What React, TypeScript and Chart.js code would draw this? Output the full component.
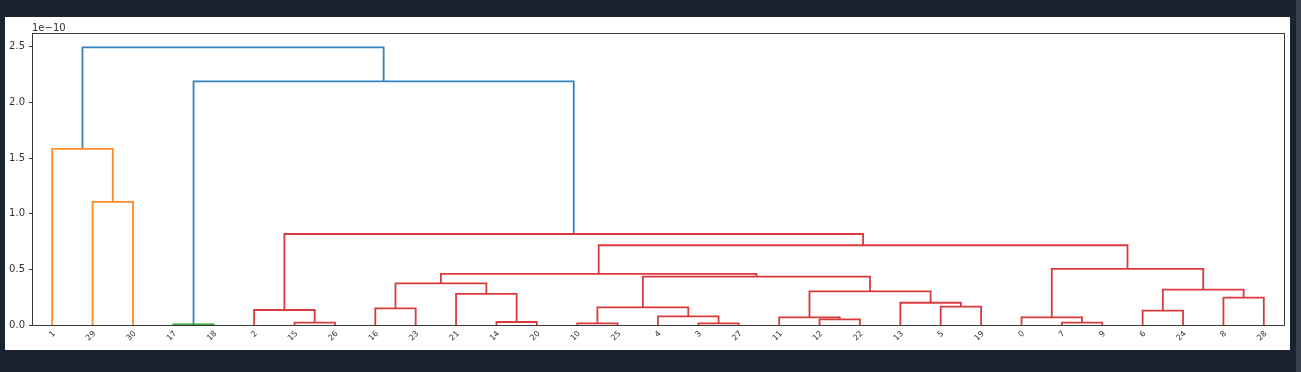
import React, { useEffect, useRef } from "react";
import { Chart, registerables } from "chart.js";

Chart.register(...registerables);

// Leaf order along the x axis (labels of the original observations)
const LEAF_LABELS = [1, 29, 30, 17, 18, 2, 15, 26, 16, 23, 21, 14, 20, 10, 25, 4, 3, 27, 11, 12, 22, 13, 5, 19, 0, 7, 9, 6, 24, 8, 28];

// Linkage (scipy style): ids 0..30 are leaves, merge i creates cluster id 31 + i
const MERGE_LEFT = [17, 10, 3, 15, 7, 14, 12, 11, 0, 4, 6, 2, 16, 32, 5, 13, 8, 21, 38, 41, 43, 44, 51, 39, 53, 42, 29, 1, 31, 58];
const MERGE_RIGHT = [18, 25, 27, 26, 9, 20, 22, 37, 35, 33, 24, 34, 23, 40, 19, 45, 28, 36, 46, 47, 48, 49, 52, 50, 54, 55, 30, 57, 56, 59];
// merge distances, in units of 1e-10
const MERGE_HEIGHT = [0.005, 0.015, 0.015, 0.021, 0.021, 0.027, 0.051, 0.069, 0.069, 0.077, 0.129, 0.135, 0.15, 0.159, 0.165, 0.2, 0.246, 0.279, 0.303, 0.318, 0.375, 0.434, 0.459, 0.504, 0.717, 0.818, 1.106, 1.583, 2.19, 2.495];
const MERGE_GROUP = [
  "C2",
  "C3", "C3", "C3", "C3", "C3", "C3", "C3", "C3", "C3", "C3", "C3", "C3", "C3", "C3", "C3", "C3", "C3", "C3", "C3", "C3", "C3", "C3", "C3", "C3", "C3",
  "C1", "C1",
  "C0", "C0",
];

const Y_TICKS = [0, 0.5, 1.0, 1.5, 2.0, 2.5];
const Y_MAX = 2.625;
const OFFSET_TEXT = "1e\u221210";

const GROUP_COLORS: Record<string, string> = {
  C0: "#3583bd",
  C1: "#ff8a26",
  C2: "#35a535",
  C3: "#db3a3d",
};

const N_LEAVES = LEAF_LABELS.length;

function buildLinks() {
  const pos: Record<number, number> = {};
  const hgt: Record<number, number> = {};
  LEAF_LABELS.forEach((lab, i) => {
    pos[lab] = 5 + 10 * i;
    hgt[lab] = 0;
  });
  const links: { pts: { x: number; y: number }[]; color: string }[] = [];
  MERGE_LEFT.forEach((l, i) => {
    const r = MERGE_RIGHT[i];
    const h = MERGE_HEIGHT[i];
    const id = N_LEAVES + i;
    pos[id] = (pos[l] + pos[r]) / 2;
    hgt[id] = h;
    links.push({
      pts: [
        { x: pos[l], y: hgt[l] },
        { x: pos[l], y: h },
        { x: pos[r], y: h },
        { x: pos[r], y: hgt[r] },
      ],
      color: GROUP_COLORS[MERGE_GROUP[i]],
    });
  });
  return links;
}

const FONT = '"DejaVu Sans", "Liberation Sans", sans-serif';

const framePlugin = {
  id: "frame",
  beforeDatasetsDraw(chart: any) {
    const { ctx, chartArea } = chart;
    const { left, top, right, bottom } = chartArea;
    ctx.save();
    ctx.strokeStyle = "#3a3a3a";
    ctx.lineWidth = 1;
    ctx.strokeRect(left + 0.5, top + 0.5, right - left, bottom - top);
    ctx.restore();
  },
  afterDraw(chart: any) {
    const { ctx, chartArea } = chart;
    ctx.save();
    ctx.fillStyle = "#333";
    ctx.font = `10px ${FONT}`;
    ctx.textAlign = "left";
    ctx.textBaseline = "alphabetic";
    ctx.fillText(OFFSET_TEXT, chartArea.left, chartArea.top - 2);
    ctx.restore();
  },
};

export default function App() {
  const ref = useRef<HTMLCanvasElement>(null);

  useEffect(() => {
    document.body.style.margin = "0";
    document.body.style.background = "#1b2330";
    const links = buildLinks();
    const chart = new Chart(ref.current as HTMLCanvasElement, {
      type: "scatter",
      data: {
        datasets: links.map((lk) => ({
          data: lk.pts,
          showLine: true,
          borderColor: lk.color,
          backgroundColor: lk.color,
          borderWidth: 1.8,
          pointRadius: 0,
          pointHoverRadius: 0,
          tension: 0,
        })),
      },
      options: {
        animation: false,
        responsive: false,
        devicePixelRatio: 1,
        layout: { padding: { top: 16, right: 6, left: 0, bottom: 0 } },
        plugins: {
          legend: { display: false },
          tooltip: { enabled: false },
        },
        scales: {
          x: {
            type: "linear",
            min: 0,
            max: 10 * N_LEAVES,
            border: { display: false },
            grid: { display: false, drawTicks: false },
            afterBuildTicks: (s: any) => {
              s.ticks = LEAF_LABELS.map((_, i) => ({ value: 5 + 10 * i }));
            },
            afterFit: (s: any) => {
              s.height = 25;
            },
            ticks: {
              autoSkip: false,
              minRotation: 45,
              maxRotation: 45,
              padding: 4,
              labelOffset: 2,
              color: "#333",
              font: { family: FONT, size: 8 },
              callback: (_v: any, i: number) => String(LEAF_LABELS[i]),
            },
          },
          y: {
            type: "linear",
            min: 0,
            max: Y_MAX,
            border: { display: false },
            grid: {
              drawOnChartArea: false,
              drawTicks: true,
              tickLength: 3,
              tickColor: "#3a3a3a",
            },
            afterBuildTicks: (s: any) => {
              s.ticks = Y_TICKS.map((v) => ({ value: v }));
            },
            afterFit: (s: any) => {
              s.width = 27;
            },
            ticks: {
              padding: 4,
              color: "#333",
              font: { family: FONT, size: 10 },
              callback: (v: any) => Number(v).toFixed(1),
            },
          },
        },
      },
      plugins: [framePlugin],
    });
    return () => chart.destroy();
  }, []);

  return (
    <div
      style={{
        position: "relative",
        width: 1301,
        height: 372,
        background: "#1b2330",
        overflow: "hidden",
      }}
    >
      <div
        style={{
          position: "absolute",
          left: 5,
          top: 17,
          width: 1285,
          height: 333,
          background: "#ffffff",
        }}
      >
        <canvas
          ref={ref}
          width={1285}
          height={333}
          style={{ display: "block", width: 1285, height: 333 }}
        />
      </div>
      <div
        style={{
          position: "absolute",
          left: 1296,
          top: 0,
          width: 5,
          height: 372,
          background: "#36404e",
        }}
      />
    </div>
  );
}
